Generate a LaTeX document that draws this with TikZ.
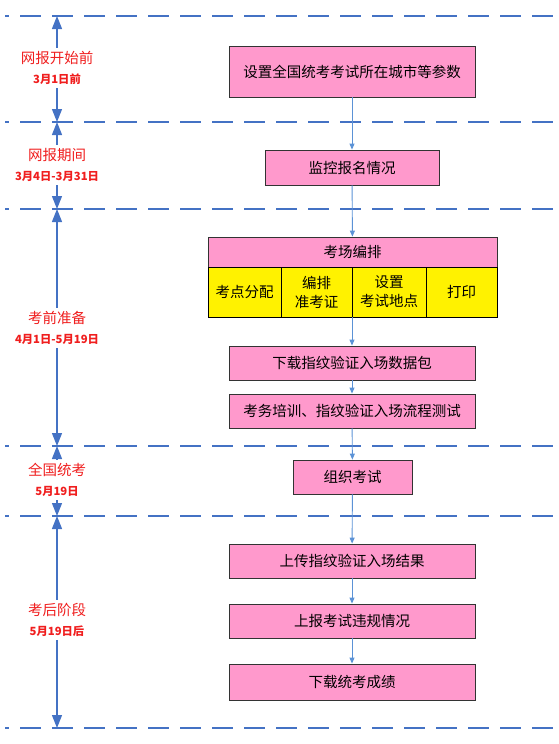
\documentclass[tikz,border=0pt]{standalone}
\usepackage{fontspec}
\setmainfont{Noto Sans CJK SC}
\usetikzlibrary{arrows.meta}
\definecolor{lineblue}{RGB}{68,114,196}
\definecolor{arrblue}{RGB}{91,146,214}
\definecolor{boxpink}{RGB}{255,153,204}
\definecolor{labred}{RGB}{240,30,30}
\newcommand{\subtxt}[1]{{\fontsize{11.3pt}{13pt}\selectfont\bfseries #1}}
\tikzset{
  sep/.style={lineblue, line width=2.6pt, dash pattern=on 21pt off 11pt, dash phase=17pt},
  phase/.style={lineblue, line width=1.3pt, {Triangle[length=13pt,width=10pt]}-{Triangle[length=13pt,width=10pt]}},
  flow/.style={arrblue, line width=0.9pt, -{Triangle[length=6pt,width=5pt]}},
  pbox/.style={draw=black!80, line width=0.8pt, fill=boxpink, font=\fontsize{14.5pt}{17pt}\selectfont, inner sep=0pt, align=center},
  ybox/.style={draw=black, line width=0.8pt, fill=yellow, font=\fontsize{14.5pt}{19pt}\selectfont, inner sep=0pt, align=center, minimum height=50pt},
  lab/.style={fill=white, text=labred, align=center, inner sep=3pt, font=\fontsize{14.5pt}{17pt}\selectfont}
}
\begin{document}
\begin{tikzpicture}[x=1pt,y=-1pt]
\useasboundingbox (0,0) rectangle (559,744);
% separators
\foreach \n/\y in {a/16,b/122,c/209,d/446,e/516,f/728}{
  \coordinate (L\n) at (5,\y);
  \coordinate (R\n) at (559,\y);
  \coordinate (P\n) at (57,\y);
  \draw[sep] (L\n) -- (R\n);
}
% phase arrows
\draw[phase] (Pa) -- (Pb);
\draw[phase] (Pb) -- (Pc);
\draw[phase] (Pc) -- (Pd);
\draw[phase] (Pd) -- (Pe);
\draw[phase] (Pe) -- (Pf);
\node[lab] (l1) at (57,68) {网报开始前\\[3pt]\subtxt{3月1日前}};
\node[lab] (l2) at (57,165) {网报期间\\[3pt]\subtxt{3月4日-3月31日}};
\node[lab] (l3) at (57,328) {考前准备\\[3pt]\subtxt{4月1日-5月19日}};
\node[lab] (l4) at (57,480) {全国统考\\[3pt]\subtxt{5月19日}};
\node[lab] (l5) at (57,620) {考后阶段\\[3pt]\subtxt{5月19日后}};
% boxes
\node[pbox, minimum width=246pt, minimum height=51pt] (b1) at (352,71.5) {设置全国统考考试所在城市等参数};
\node[pbox, minimum width=174pt, minimum height=35pt] (b2) at (352,167.5) {监控报名情况};
\node[pbox, minimum width=289pt, minimum height=30pt] (hd) at (352.5,252) {考场编排};
\node[ybox, minimum width=73pt] (c1) at (244.5,292) {考点分配};
\node[ybox, minimum width=71pt] (c2) at (316.5,292) {编排\\准考证};
\node[ybox, minimum width=74pt] (c3) at (389,292) {设置\\考试地点};
\node[ybox, minimum width=71pt] (c4) at (461.5,292) {打印};
\coordinate (gb) at (352,317);
\node[pbox, minimum width=246pt, minimum height=34pt] (b4) at (352,363) {下载指纹验证入场数据包};
\node[pbox, minimum width=246pt, minimum height=34pt] (b5) at (352,411) {考务培训、指纹验证入场流程测试};
\node[pbox, minimum width=119pt, minimum height=34pt] (b6) at (352.5,477) {组织考试};
\node[pbox, minimum width=246pt, minimum height=34pt] (b7) at (352,561) {上传指纹验证入场结果};
\node[pbox, minimum width=246pt, minimum height=34pt] (b8) at (352,621) {上报考试违规情况};
\node[pbox, minimum width=246pt, minimum height=36pt] (b9) at (352,682) {下载统考成绩};
% flow arrows
\draw[flow] (b1) -- (b2);
\draw[flow] (b2) -- (hd);
\draw[flow] (gb) -- (b4);
\draw[flow] (b4) -- (b5);
\draw[flow] (b5) -- (b6);
\draw[flow] (b6) -- (b7);
\draw[flow] (b7) -- (b8);
\draw[flow] (b8) -- (b9);
\end{tikzpicture}
\end{document}
